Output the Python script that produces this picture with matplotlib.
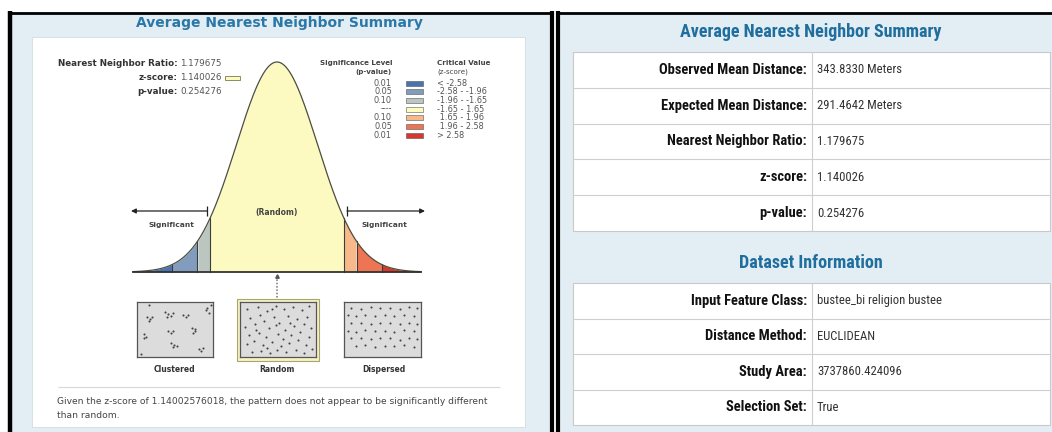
import numpy as np
import matplotlib
matplotlib.use("Agg")
import matplotlib.pyplot as plt
import matplotlib.patches as mpatches
from matplotlib import font_manager

# ---------------- data ----------------
nn_ratio = "1.179675"
z_score = "1.140026"
p_value = "0.254276"
z_full = "1.14002576018"

crit_z = [-2.58, -1.96, -1.65, 1.65, 1.96, 2.58]
band_colors = ["#4a74b0", "#819cbd", "#bcc6c0", "#fcfac0", "#f8b98a", "#ee7553", "#d6392b"]
sig_levels = ["0.01", "0.05", "0.10", "----", "0.10", "0.05", "0.01"]
crit_labels = ["< -2.58", "-2.58 - -1.96", "-1.96 - -1.65", "-1.65 - 1.65",
               " 1.65 - 1.96", " 1.96 - 2.58", "> 2.58"]

summary_labels = ["Observed Mean Distance:", "Expected Mean Distance:",
                  "Nearest Neighbor Ratio:", "z-score:", "p-value:"]
summary_values = ["343.8330 Meters", "291.4642 Meters", nn_ratio, z_score, p_value]

dataset_labels = ["Input Feature Class:", "Distance Method:", "Study Area:", "Selection Set:"]
dataset_values = ["bustee_bi religion bustee", "EUCLIDEAN", "3737860.424096", "True"]

pattern_names = ["Clustered", "Random", "Dispersed"]

clustered_x = [.11, .16, .19, .14, .37, .41, .45, .39, .47, .61, .65, .68, .92, .96, .94,
               .15, .99, .07, .10, .08, .41, .45, .47, .73, .77, .74, .78, .45, .49, .53,
               .47, .83, .86, .89, .03]
clustered_y = [.74, .70, .73, .67, .84, .79, .76, .74, .82, .78, .74, .78, .86, .82, .90,
               .96, .96, .41, .36, .33, .48, .44, .48, .52, .47, .44, .51, .25, .21, .18,
               .17, .13, .10, .15, .03]

random_x = [.08, .22, .35, .47, .58, .70, .83, .93, .12, .26, .31, .44, .52, .63, .76, .90,
            .05, .18, .38, .47, .60, .72, .85, .95, .10, .24, .33, .50, .57, .68, .80, .92,
            .07, .17, .29, .42, .54, .65, .77, .88, .14, .27, .39, .49, .61, .74, .86, .96,
            .20, .66, .42, .35]
random_y = [.88, .93, .85, .95, .88, .92, .86, .95, .72, .78, .66, .74, .62, .76, .70, .74,
            .55, .60, .52, .58, .50, .56, .60, .52, .40, .44, .36, .42, .32, .40, .46, .36,
            .22, .28, .20, .26, .18, .24, .30, .20, .08, .10, .06, .12, .07, .12, .06, .14,
            .50, .62, .88, .15]

dispersed_x = [.08, .21, .34, .47, .60, .73, .86, .96,
               .03, .14, .27, .40, .53, .66, .79, .92,
               .08, .21, .34, .47, .60, .73, .86, .97,
               .03, .14, .27, .40, .53, .66, .79, .92,
               .08, .21, .34, .47, .60, .73, .86, .97,
               .14, .27, .40, .53, .66, .79, .92]
dispersed_y = [.91, .89, .92, .90, .91, .89, .92, .90,
               .77, .75, .78, .76, .77, .75, .78, .76,
               .62, .63, .61, .63, .62, .60, .63, .61,
               .48, .46, .49, .47, .48, .46, .49, .47,
               .33, .34, .32, .34, .33, .31, .34, .32,
               .18, .20, .17, .19, .18, .20, .17]

pattern_pts = [(clustered_x, clustered_y), (random_x, random_y), (dispersed_x, dispersed_y)]

# ---------------- fonts ----------------
VERD = "DejaVu Sans"
fonts = font_manager.fontManager.ttflist
names = {f.name for f in fonts}
NARROW, STRETCH = "Liberation Sans", "normal"
for cand in ["Liberation Sans Narrow", "Roboto Condensed", "Open Sans Condensed"]:
    if cand in names:
        NARROW = cand
        break
else:
    for fam in ["Noto Sans", "DejaVu Sans"]:
        if any(f.name == fam and f.stretch in ("condensed", "semi-condensed", 87.5, 75)
               for f in fonts):
            NARROW, STRETCH = fam, "condensed"
            break

W, H = 1052, 432
fig = plt.figure(figsize=(W / 100, H / 100), dpi=100)
fig.patch.set_facecolor("white")
ax = fig.add_axes([0, 0, 1, 1])
ax.set_xlim(0, W)
ax.set_ylim(H, 0)
ax.axis("off")
renderer = fig.canvas.get_renderer()


def fit_size(text, target_px, max_size, **kw):
    # shrink a narrow-font size so the text spans about target_px
    t = ax.text(0, 0, text, fontsize=10, **kw)
    w = t.get_window_extent(renderer).width
    t.remove()
    return min(max_size, 10 * target_px / w)


def px_axes(x0, y0, x1, y1):
    return fig.add_axes([x0 / W, 1 - y1 / H, (x1 - x0) / W, (y1 - y0) / H])


def line(xs, ys, **kw):
    ax.plot(xs, ys, solid_capstyle="butt", **kw)


PANEL_BG = "#e3edf4"
TITLE_C = "#2a78a8"

# =========== LEFT PANEL ===========
ax.add_patch(mpatches.Rectangle((10, 12), 542, 425, facecolor=PANEL_BG, edgecolor="none"))
line([10, 10], [11, 432], color="black", lw=3.2)
line([9, 553], [12.5, 12.5], color="black", lw=2)
line([552, 552], [11, 432], color="black", lw=3)
ax.add_patch(mpatches.Rectangle((32, 37), 493, 390, facecolor="white",
                                edgecolor="#d3dce2", lw=0.6))
ax.text(279, 23, "Average Nearest Neighbor Summary", fontsize=10, fontweight="bold",
        family=VERD, color=TITLE_C, ha="center", va="center")

# result text block
for i, (lab, val) in enumerate(zip(["Nearest Neighbor Ratio:", "z-score:", "p-value:"],
                                   [nn_ratio, z_score, p_value])):
    y = 64 + i * 13.5
    ax.text(178, y, lab, fontsize=6.3, fontweight="bold", family=VERD, color="#333",
            ha="right", va="center")
    ax.text(180, y, val, fontsize=6.3, family=VERD, color="#555", ha="left", va="center")
ax.add_patch(mpatches.Rectangle((225, 75.5), 15, 4, facecolor=band_colors[3],
                                edgecolor="#7a7a50", lw=0.6))

# legend
ax.text(392, 63, "Significance Level", fontsize=5.1, fontweight="bold", family=VERD,
        color="#444", ha="right", va="center")
ax.text(392, 72, "(p-value)", fontsize=5.1, fontweight="bold", family=VERD,
        color="#444", ha="right", va="center")
ax.text(437, 63, "Critical Value", fontsize=5.1, fontweight="bold", family=VERD,
        color="#444", ha="left", va="center")
ax.text(437, 72, "(z-score)", fontsize=5.1, family=VERD, color="#444", ha="left", va="center")
for i, (lvl, col, cl) in enumerate(zip(sig_levels, band_colors, crit_labels)):
    y = 83 + i * 8.7
    ax.text(392, y, lvl, fontsize=5.9, family=VERD, color="#555", ha="right", va="center")
    ax.add_patch(mpatches.Rectangle((406, y - 2.5), 17, 5, facecolor=col,
                                    edgecolor="#555", lw=0.4))
    ax.text(437, y, cl, fontsize=5.9, family=VERD, color="#555", ha="left", va="center")

# bell curve (z units)
cax = px_axes(133, 62, 421, 272)
cax.set_xlim(-3.55, 3.55)
cax.set_ylim(0, 1.0)
cax.axis("off")
cax.patch.set_alpha(0)
zz = np.linspace(-3.55, 3.55, 600)
dens = np.exp(-zz ** 2 / 2)
edges = [-3.55] + crit_z + [3.55]
for a, b, col in zip(edges[:-1], edges[1:], band_colors):
    m = (zz >= a) & (zz <= b)
    cax.fill_between(zz[m], 0, dens[m], color=col, lw=0)
for c in crit_z:
    cax.plot([c, c], [0, np.exp(-c ** 2 / 2)], color="#3d3d3d", lw=0.8, clip_on=False)
cax.plot(zz, dens, color="#4d4d40", lw=0.9, clip_on=False)
cax.plot([-3.55, 3.55], [0, 0], color="#333", lw=1.3, clip_on=False)
cax.text(277, 212, "(Random)", transform=ax.transData, fontsize=5.5, fontweight="bold",
         family=VERD, color="#444", ha="center", va="center")

# arrows
ax.annotate("", xy=(131, 211), xytext=(207, 211),
            arrowprops=dict(arrowstyle="-|>", color="#222", lw=0.9, mutation_scale=7,
                            shrinkA=0, shrinkB=0))
ax.annotate("", xy=(425, 211), xytext=(347, 211),
            arrowprops=dict(arrowstyle="-|>", color="#222", lw=0.9, mutation_scale=7,
                            shrinkA=0, shrinkB=0))
line([207, 207], [206, 216], color="#222", lw=0.9)
line([347, 347], [206, 216], color="#222", lw=0.9)
ax.text(171, 225, "Significant", fontsize=5.4, fontweight="bold", family=VERD,
        color="#444", ha="center", va="center")
ax.text(384, 225, "Significant", fontsize=5.4, fontweight="bold", family=VERD,
        color="#444", ha="center", va="center")

# dotted connector
ax.plot([277, 277], [276, 298], color="#888", lw=1.2, ls=(0, (1, 1)))
ax.plot([277], [275.5], marker="^", ms=2.5, color="#555")

# pattern boxes
ax.add_patch(mpatches.Rectangle((237, 298.5), 82, 62, facecolor="#f5f3c6",
                                edgecolor="#a8a66a", lw=0.8))
box_rects = [(137, 302, 213, 357), (240, 302, 316, 357), (344, 302, 421, 357)]
label_x = [174, 277, 384]
for (x0, y0, x1, y1), (px, py), name, lx in zip(box_rects, pattern_pts, pattern_names, label_x):
    bax = px_axes(x0, y0, x1, y1)
    bax.set_xlim(-0.02, 1.02)
    bax.set_ylim(-0.02, 1.02)
    bax.set_facecolor("#dcdcdc")
    bax.set_xticks([])
    bax.set_yticks([])
    for s in bax.spines.values():
        s.set_color("#555")
        s.set_linewidth(0.9)
    bax.plot(px, py, "o", ms=1.5, color="#444", mec="none")
    ax.text(lx, 370, name, fontsize=5.5, fontweight="bold", family=VERD,
            color="#333", ha="center", va="center")

line([58, 500], [387, 387], color="#d8d8d8", lw=0.8)
ax.text(57, 401, "Given the z-score of %s, the pattern does not appear to be significantly different" % z_full,
        fontsize=6.6, family=VERD, color="#444", ha="left", va="center")
ax.text(57, 415, "than random.", fontsize=6.6, family=VERD, color="#444", ha="left", va="center")

# =========== RIGHT PANEL ===========
ax.add_patch(mpatches.Rectangle((558, 12), 494, 425, facecolor=PANEL_BG, edgecolor="none"))
line([558, 558], [11, 432], color="black", lw=3)
line([557, 1052], [12.5, 12.5], color="black", lw=2)

TITLE_R = "#1f6e9e"
nk = dict(family=NARROW, fontstretch=STRETCH)
title_fs = fit_size("Average Nearest Neighbor Summary", 278, 13, fontweight="bold", **nk)
label_fs = fit_size("Observed Mean Distance:", 148, 10.5, fontweight="bold", **nk)
value_fs = fit_size("343.8330 Meters", 84, 10, **nk)

ax.text(811, 32, "Average Nearest Neighbor Summary", fontsize=title_fs, fontweight="bold",
        color=TITLE_R, ha="center", va="center", **nk)
ax.text(811, 263, "Dataset Information", fontsize=title_fs, fontweight="bold",
        color=TITLE_R, ha="center", va="center", **nk)


def draw_table(top, row_h, labels, values):
    n = len(labels)
    bottom = top + n * row_h
    ax.add_patch(mpatches.Rectangle((573, top), 477, n * row_h, facecolor="white",
                                    edgecolor="#c9c9c9", lw=0.8))
    for i in range(1, n):
        line([573, 1050], [top + i * row_h] * 2, color="#cfcfcf", lw=0.8)
    line([812, 812], [top, bottom], color="#cfcfcf", lw=0.8)
    for i, (lab, val) in enumerate(zip(labels, values)):
        y = top + (i + 0.5) * row_h
        ax.text(807, y, lab, fontsize=label_fs, fontweight="bold",
                color="#111", ha="right", va="center", **nk)
        ax.text(817, y, val, fontsize=value_fs, color="#333",
                ha="left", va="center", **nk)


draw_table(52, 35.8, summary_labels, summary_values)
draw_table(283, 35.5, dataset_labels, dataset_values)

fig.savefig("out.png", dpi=100, facecolor="white")
